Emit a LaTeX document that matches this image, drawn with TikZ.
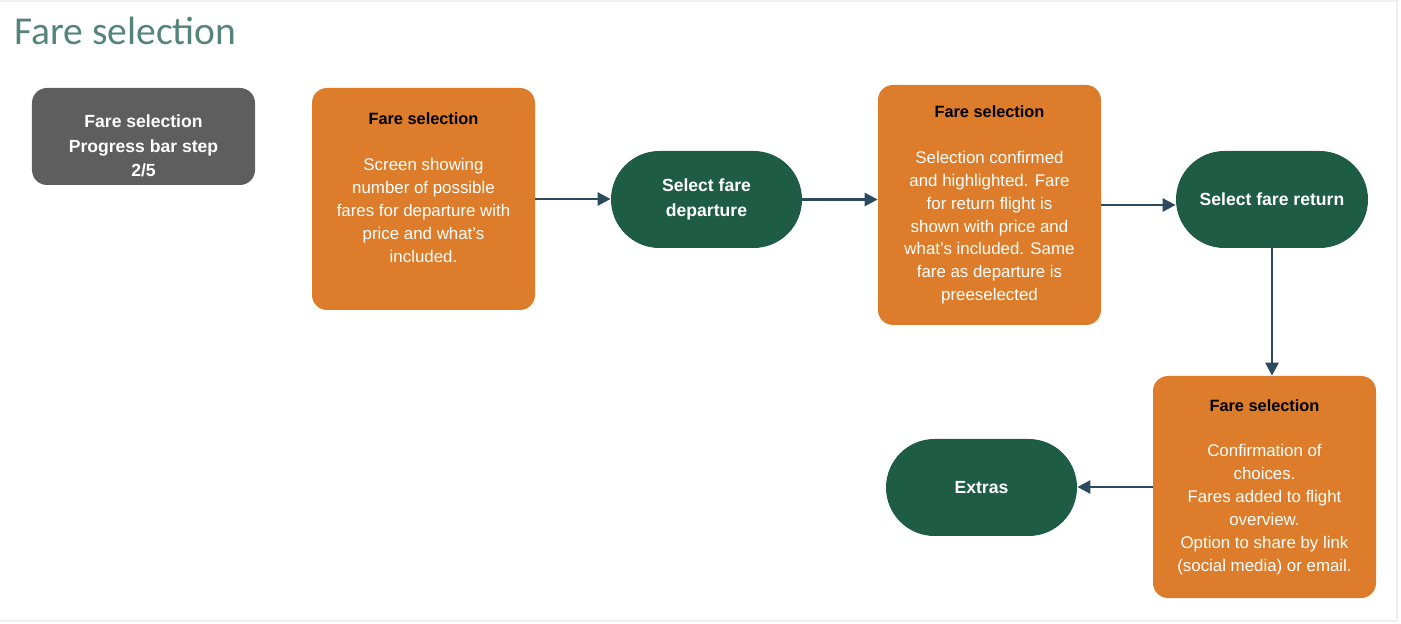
\documentclass[tikz,border=0pt]{standalone}
\usepackage{fontspec}
\setmainfont{Liberation Sans}
\newfontfamily\titlefont{Carlito}
\usetikzlibrary{positioning, calc, shapes.misc, arrows.meta}
\definecolor{fareorange}{HTML}{DD7C2A}
\definecolor{faregreen}{HTML}{1F5C45}
\definecolor{faregray}{HTML}{5E5E5E}
\definecolor{flowblue}{HTML}{2B4A5E}
\definecolor{titlegreen}{HTML}{55857A}
\newcommand{\farehead}{{\color{black}\bfseries\fontsize{9.3}{13}\selectfont Fare selection}}
\tikzset{
    farebox/.style={rectangle, rounded corners=0.3cm, fill=fareorange, text=white, align=center,
        minimum width=4.46cm, minimum height=4.44cm, inner sep=0pt, font=\fontsize{9.6}{13}\selectfont},
    farepill/.style={rounded rectangle, fill=faregreen, text=white, align=center,
        minimum width=3.82cm, minimum height=1.94cm, inner sep=0pt, font=\bfseries\fontsize{10}{14}\selectfont},
    stepbox/.style={rectangle, rounded corners=0.3cm, fill=faregray, text=white, align=center,
        minimum width=4.46cm, minimum height=1.94cm, inner sep=0pt, font=\bfseries\fontsize{10}{14}\selectfont},
    flow/.style={-{Triangle[length=0.26cm, width=0.26cm]}, line width=1.5pt, draw=flowblue}
}
\begin{document}
\begin{tikzpicture}
    \useasboundingbox (0,0) rectangle (28.02,-12.48);
    %cornice
    \draw[gray!12, line width=0.6pt] (0,-0.02) -- (27.94,-0.02) -- (27.94,-12.42) -- (0,-12.42);
    %titolo
    \node[anchor=base west, inner sep=0pt, text=titlegreen, font=\titlefont\fontsize{22.5}{27}\selectfont] (title) at (0.28,-0.90) {Fare selection};
    %passo
    \node[stepbox] (step) at (2.87,-2.73) {\mbox{}\\[4pt]Fare selection\\Progress bar step\\2/5};
    %schermate
    \node[farebox] (screenA) at (8.47,-3.98) {\farehead\\[13pt]Screen showing\\number of possible\\fares for departure with\\price and what's\\included.\\ \mbox{}};
    \node[farebox, minimum height=4.80cm] (screenB) at (19.79,-4.10) {\farehead\\[13pt]Selection confirmed\\and highlighted. Fare\\for return flight is\\shown with price and\\what's included. Same\\fare as departure is\\preeselected};
    \node[farebox] (screenC) at (25.29,-9.74) {\farehead\\[13pt]Confirmation of\\choices.\\Fares added to flight\\overview.\\Option to share by link\\(social media) or email.};
    %azioni
    \node[farepill] (departure) at (14.13,-3.99) {Select fare\\departure};
    \node[farepill, minimum width=3.84cm] (return) at (25.44,-3.99) {Select fare return};
    \node[farepill] (extras) at (19.63,-9.75) {Extras};
    %collegamenti
    \draw[flow] (screenA.east) -- (screenA.east -| departure.west);
    \draw[flow] (departure.east) -- (departure.east -| screenB.west);
    \draw[flow] (screenB.east) -- (screenB.east -| return.west);
    \draw[flow] (return.south) -- (return.south |- screenC.north);
    \draw[flow] (screenC.west) -- (screenC.west -| extras.east);
\end{tikzpicture}
\end{document}
